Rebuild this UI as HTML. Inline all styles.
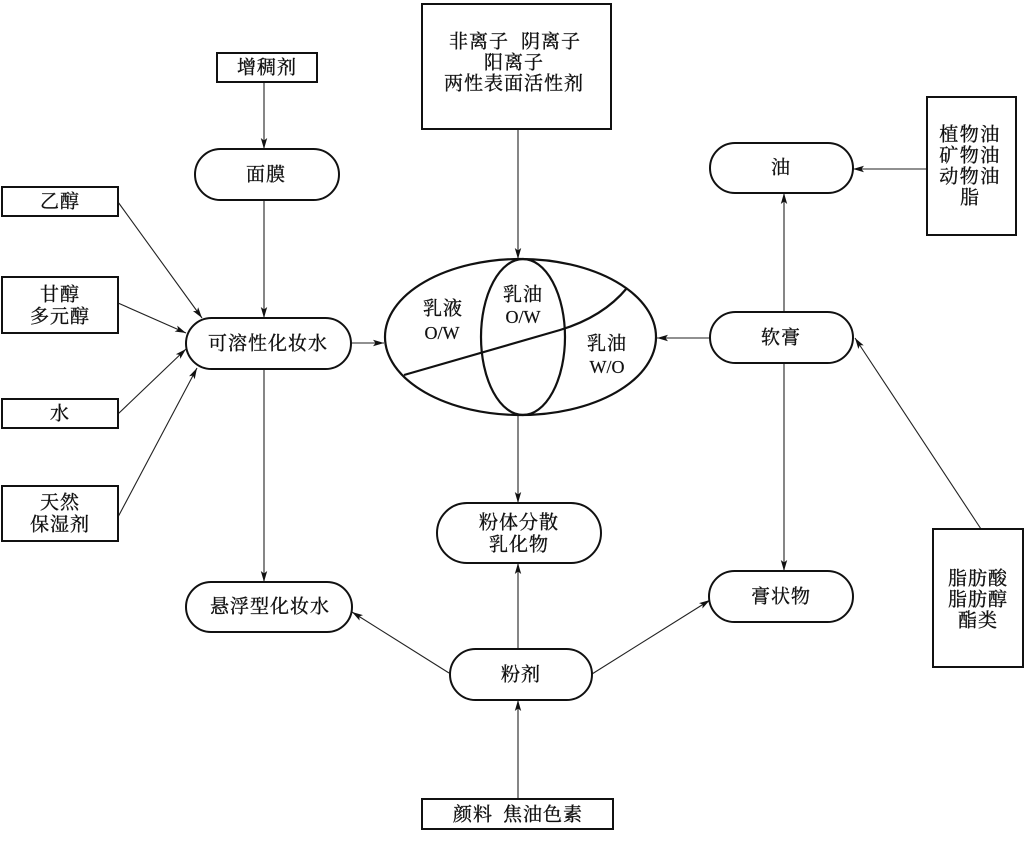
<!DOCTYPE html>
<html><head><meta charset="utf-8"><style>
html,body{margin:0;padding:0;background:#fff;}
svg{display:block;}
text{font-family:"Liberation Serif","Noto Serif CJK SC",serif;font-size:19px;fill:#111;stroke:#111;stroke-width:0.35;text-anchor:middle;dominant-baseline:central;letter-spacing:1px;}
.lat{font-family:"Liberation Serif",serif;font-size:18px;letter-spacing:0;stroke-width:0.2;}
.box{fill:#fff;stroke:#111;stroke-width:2;}
.ln{stroke:#222;stroke-width:1.1;fill:none;}
</style></head><body>
<svg width="1024" height="845" viewBox="0 0 1024 845" xmlns="http://www.w3.org/2000/svg">
<defs>
<marker id="a" markerUnits="userSpaceOnUse" markerWidth="11" markerHeight="8" refX="11" refY="4" orient="auto">
<path d="M0,0.8 L11,4 L0,7.2 L2.5,4 z" fill="#111"/>
</marker>
</defs>

<!-- connectors -->
<g class="ln" marker-end="url(#a)">
<line x1="264" y1="82" x2="264" y2="149"/>
<line x1="264" y1="200" x2="264" y2="318"/>
<line x1="118" y1="202" x2="202" y2="318"/>
<line x1="118" y1="303" x2="186" y2="333"/>
<line x1="118" y1="414" x2="186" y2="349"/>
<line x1="118" y1="517" x2="197" y2="368"/>
<line x1="351" y1="343" x2="384" y2="343"/>
<line x1="264" y1="369" x2="264" y2="582"/>
<line x1="518" y1="129" x2="518" y2="259"/>
<line x1="518" y1="415" x2="518" y2="503"/>
<line x1="518" y1="649" x2="518" y2="563"/>
<line x1="518" y1="799" x2="518" y2="700"/>
<line x1="449" y1="673" x2="352" y2="612"/>
<line x1="592" y1="674" x2="710" y2="600"/>
<line x1="710" y1="338" x2="657" y2="338"/>
<line x1="784" y1="312" x2="784" y2="193"/>
<line x1="784" y1="363" x2="784" y2="571"/>
<line x1="927" y1="169" x2="853" y2="169"/>
<line x1="981" y1="529" x2="855" y2="338"/>
</g>

<!-- rect boxes -->
<rect class="box" x="217" y="53" width="100" height="29"/>
<text x="267" y="68">增稠剂</text>

<rect class="box" x="2" y="187" width="116" height="29"/>
<text x="60" y="202">乙醇</text>

<rect class="box" x="2" y="277" width="116" height="56"/>
<text x="60" y="295">甘醇</text>
<text x="60" y="317">多元醇</text>

<rect class="box" x="2" y="399" width="116" height="29"/>
<text x="60" y="414">水</text>

<rect class="box" x="2" y="486" width="116" height="55"/>
<text x="60" y="503">天然</text>
<text x="60" y="525">保湿剂</text>

<rect class="box" x="422" y="4" width="189" height="125"/>
<text x="479" y="42">非离子</text>
<text x="551" y="42">阴离子</text>
<text x="514" y="63">阳离子</text>
<text x="514" y="84">两性表面活性剂</text>

<rect class="box" x="927" y="97" width="89" height="138"/>
<text x="970" y="135" style="letter-spacing:1.5px">植物油</text>
<text x="970" y="156" style="letter-spacing:1.5px">矿物油</text>
<text x="970" y="177" style="letter-spacing:1.5px">动物油</text>
<text x="970" y="198">脂</text>

<rect class="box" x="933" y="529" width="90" height="138"/>
<text x="978" y="579">脂肪酸</text>
<text x="978" y="600">脂肪醇</text>
<text x="978" y="621">酯类</text>

<rect class="box" x="422" y="799" width="191" height="30"/>
<text x="473" y="815">颜料</text>
<text x="543" y="815">焦油色素</text>

<!-- pills -->
<rect class="box" x="195" y="149" width="144" height="51" rx="25.5"/>
<text x="266" y="175">面膜</text>

<rect class="box" x="186" y="318" width="165" height="51" rx="25.5"/>
<text x="268" y="344">可溶性化妆水</text>

<rect class="box" x="186" y="582" width="166" height="50" rx="25"/>
<text x="270" y="607">悬浮型化妆水</text>

<rect class="box" x="710" y="143" width="143" height="50" rx="25"/>
<text x="781" y="168">油</text>

<rect class="box" x="710" y="312" width="143" height="51" rx="25.5"/>
<text x="781" y="338">软膏</text>

<rect class="box" x="709" y="571" width="144" height="51" rx="25.5"/>
<text x="781" y="597">膏状物</text>

<rect class="box" x="437" y="503" width="164" height="60" rx="30"/>
<text x="519" y="523">粉体分散</text>
<text x="519" y="545">乳化物</text>

<rect class="box" x="450" y="649" width="142" height="51" rx="25.5"/>
<text x="521" y="675">粉剂</text>

<!-- ellipse diagram -->
<ellipse cx="520.5" cy="337" rx="135.5" ry="78" fill="none" stroke="#111" stroke-width="2.2"/>
<ellipse cx="523" cy="337" rx="42" ry="78" fill="none" stroke="#111" stroke-width="2.2"/>
<path d="M404,375 L560,330 Q603,317 627,288" fill="none" stroke="#111" stroke-width="2.2"/>
<text x="443" y="309">乳液</text>
<text x="442" y="333" class="lat">O/W</text>
<text x="523" y="295">乳油</text>
<text x="523" y="317" class="lat">O/W</text>
<text x="607" y="344">乳油</text>
<text x="607" y="367" class="lat">W/O</text>
</svg>
</body></html>
